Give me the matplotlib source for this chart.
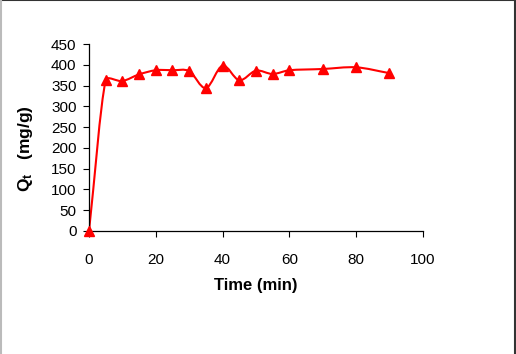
import numpy as np
import matplotlib
matplotlib.use("Agg")
import matplotlib.pyplot as plt
from matplotlib.path import Path
from matplotlib.patches import PathPatch
from matplotlib.lines import Line2D

# --- Data ---
time_min = [0, 5, 10, 15, 20, 25, 30, 35, 40, 45, 50, 55, 60, 70, 80, 90]
qt = [0, 363, 361, 377, 387, 387, 385, 344, 398, 363, 386, 378, 387, 390, 394, 380]

x_ticks = [0, 20, 40, 60, 80, 100]
y_ticks = [0, 50, 100, 150, 200, 250, 300, 350, 400, 450]

plt.rcParams.update({
    "font.family": ["Liberation Sans", "DejaVu Sans"],
    "font.size": 9,
    "mathtext.fontset": "custom",
    "mathtext.rm": "Liberation Sans",
    "mathtext.bf": "Liberation Sans:bold",
})

RED = "#ff0000"


def smooth_path(ax, xs, ys):
    # Excel-like smoothed line, built in pixel space; control arms are
    # Catmull-Rom tangents capped at a third of the segment length
    pts = ax.transData.transform(np.column_stack([xs, ys]))
    n = len(pts)
    verts = [pts[0]]
    codes = [Path.MOVETO]

    def ctrl(i, j):
        seg = np.linalg.norm(pts[j] - pts[i])
        if i == 0 or i == n - 1:
            return pts[i] + (pts[j] - pts[i]) / 3.0
        prv = pts[i - 1] if j > i else pts[i + 1]
        tan = (pts[j] - prv) / 6.0
        ln = np.linalg.norm(tan)
        if ln > seg / 3.0 and ln > 0:
            tan = tan * (seg / 3.0) / ln
        return pts[i] + tan

    for i in range(n - 1):
        verts += [ctrl(i, i + 1), ctrl(i + 1, i), pts[i + 1]]
        codes += [Path.CURVE4] * 3
    inv = ax.transData.inverted()
    return Path(inv.transform(np.array(verts)), codes)


fig = plt.figure(figsize=(5.16, 3.54), dpi=100)
ax = fig.add_axes([0.1725, 0.3475, 0.647, 0.528])
ax.set_xlim(0, 100)
ax.set_ylim(0, 450)

ax.add_patch(PathPatch(smooth_path(ax, time_min, qt), facecolor="none",
                       edgecolor=RED, linewidth=1.5, zorder=2))
ax.plot(time_min, qt, linestyle="none", marker="^", markersize=6.5,
        color=RED, clip_on=False, zorder=3)

ax.set_xticks(x_ticks)
ax.set_yticks(y_ticks)

for s in ["top", "right"]:
    ax.spines[s].set_visible(False)
for s in ["left", "bottom"]:
    ax.spines[s].set_linewidth(0.9)
ax.tick_params(direction="out", length=4, width=0.8, labelsize=11, colors="black")
ax.tick_params(axis="x", pad=12)
ax.tick_params(axis="y", pad=5)

ax.set_xlabel("Time (min)", fontsize=12, fontweight="bold", labelpad=8)
ax.set_ylabel(r"$\mathbf{Q_t}$   (mg/g)", fontsize=12.5, fontweight="bold")
ax.yaxis.set_label_coords(-0.162, 0.44)

# outer frame
fig.add_artist(Line2D([0, 1], [0.999, 0.999], transform=fig.transFigure, color="#333333", lw=1.5))
fig.add_artist(Line2D([0.998, 0.998], [0, 1], transform=fig.transFigure, color="#333333", lw=1.5))
fig.add_artist(Line2D([0.002, 0.002], [0, 1], transform=fig.transFigure, color="#bbbbbb", lw=1.5))

fig.savefig("out.png", dpi=100)
